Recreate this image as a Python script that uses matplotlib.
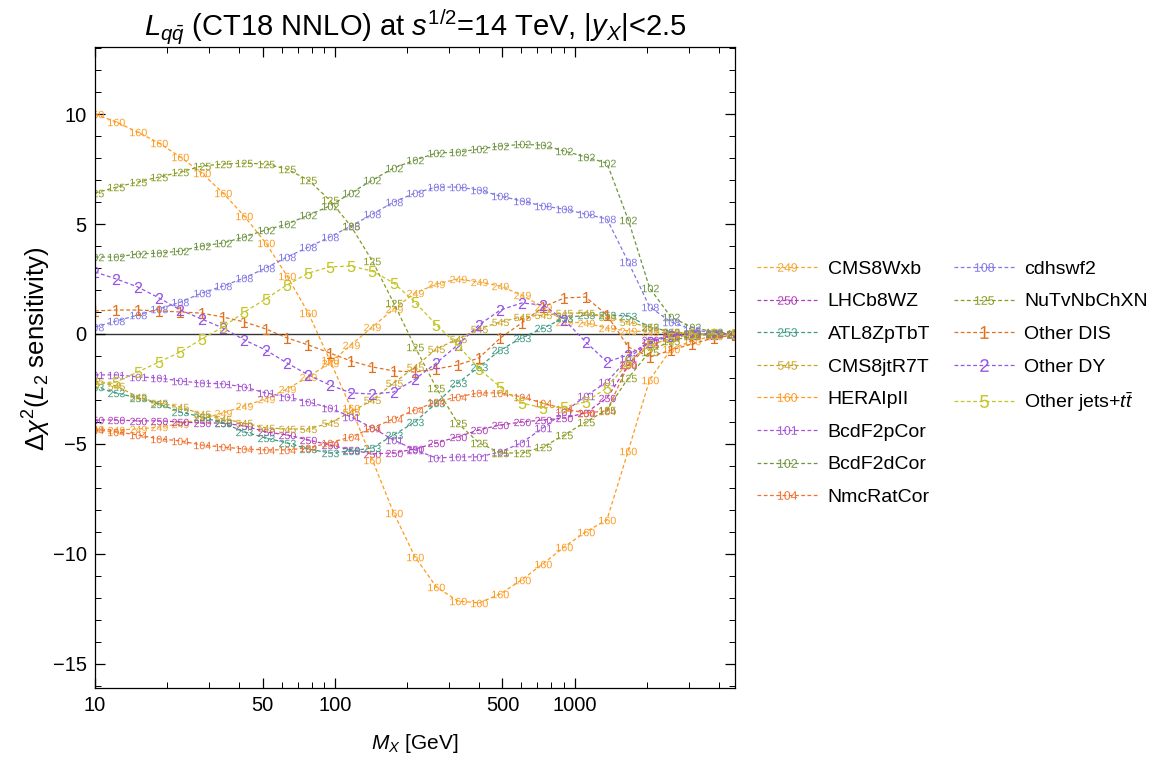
import numpy as np
import matplotlib
matplotlib.use("Agg")
import matplotlib.pyplot as plt
from matplotlib.lines import Line2D
from matplotlib.ticker import FixedLocator, FixedFormatter, NullFormatter

plt.rcParams['font.family'] = ['Liberation Sans', 'DejaVu Sans']
plt.rcParams['mathtext.fontset'] = 'custom'
plt.rcParams['mathtext.rm'] = 'Liberation Sans'
plt.rcParams['mathtext.it'] = 'Liberation Sans:italic'
plt.rcParams['mathtext.bf'] = 'Liberation Sans:bold'

# invariant mass grid (GeV)
mass = [10.0, 12.27, 15.06, 18.49, 22.69, 27.85, 34.18, 41.95, 51.49, 63.19,
        77.55, 95.18, 116.8, 143.4, 176.0, 216.0, 265.1, 325.3, 399.3, 490.0,
        601.4, 738.1, 905.9, 1112, 1364, 1675, 2055, 2522, 3096, 3799, 4667]

# delta chi^2 for each experiment
cms8wxb_249 = [-4.32, -4.36, -4.32, -4.23, -4.09, -3.86, -3.59, -3.27, -2.95, -2.5, -1.95,
               -1.32, -0.5, 0.32, 1.14, 1.86, 2.27, 2.5, 2.36, 2.18, 1.77, 1.23, 0.55,
               0.5, 0.27, 0.14, 0.1, 0.05, 0.0, 0.0, 0.0]
lhcb8wz_250 = [-3.91, -3.91, -3.95, -3.95, -4.0, -4.05, -4.05, -4.18, -4.45, -4.59, -4.82,
               -5.05, -5.27, -5.45, -5.41, -5.23, -4.95, -4.68, -4.36, -4.14, -4.0, -3.91,
               -3.82, -3.59, -2.91, -1.41, -0.27, -0.1, 0.0, 0.0, 0.0]
atl8zptbt_253 = [-2.41, -2.68, -2.91, -3.18, -3.55, -3.77, -4.05, -4.45, -4.73, -4.95, -5.23,
                 -5.41, -5.32, -5.18, -4.59, -4.0, -3.14, -2.23, -1.5, -0.73, -0.18, 0.27,
                 0.73, 0.86, 0.86, 0.82, 0.32, 0.1, 0.0, 0.0, 0.0]
cms8jtr7t_545 = [-2.14, -2.36, -2.86, -3.14, -3.32, -3.64, -3.86, -4.05, -4.27, -4.32, -4.32,
                 -4.05, -3.55, -3.0, -2.23, -1.5, -0.68, -0.23, 0.23, 0.55, 0.77, 0.86,
                 0.95, 0.95, 0.77, 0.55, 0.3, 0.1, 0.0, 0.0, 0.0]
heraipii_160 = [10.0, 9.64, 9.18, 8.68, 8.05, 7.32, 6.41, 5.36, 4.14, 2.64, 0.95, -1.18,
                -3.36, -5.73, -8.14, -10.14, -11.5, -12.14, -12.23, -11.82, -11.18, -10.45,
                -9.68, -9.0, -8.45, -5.3, -2.09, -0.7, -0.3, -0.1, 0.0]
bcdf2pcor_101 = [-1.86, -1.86, -1.95, -2.0, -2.14, -2.23, -2.27, -2.41, -2.68, -2.86, -3.09,
                 -3.36, -3.77, -4.27, -4.82, -5.27, -5.64, -5.59, -5.59, -5.36, -4.95, -4.27,
                 -3.55, -2.82, -2.18, -1.09, -0.36, -0.1, 0.0, 0.0, 0.0]
bcdf2dcor_102 = [3.5, 3.5, 3.64, 3.68, 3.77, 4.0, 4.14, 4.41, 4.73, 5.0, 5.4, 5.82, 6.41,
                 7.0, 7.55, 7.91, 8.23, 8.27, 8.41, 8.55, 8.62, 8.59, 8.32, 8.05, 7.77,
                 5.18, 2.09, 0.77, 0.3, 0.1, 0.0]
nmcratcor_104 = [-4.36, -4.45, -4.59, -4.77, -4.86, -5.05, -5.14, -5.23, -5.27, -5.27, -5.18,
                 -4.95, -4.68, -4.27, -3.86, -3.45, -3.09, -2.86, -2.68, -2.68, -2.86, -3.14,
                 -3.41, -3.59, -3.5, -1.4, -0.5, -0.2, 0.0, 0.0, 0.0]
cdhswf2_108 = [0.32, 0.59, 0.86, 1.14, 1.45, 1.86, 2.18, 2.55, 3.0, 3.5, 3.95, 4.41, 4.91,
               5.45, 6.0, 6.41, 6.68, 6.68, 6.55, 6.27, 6.05, 5.82, 5.68, 5.45, 5.23, 3.27,
               1.23, 0.55, 0.2, 0.05, 0.0]
nutvnbchxn_125 = [6.41, 6.68, 6.91, 7.14, 7.36, 7.64, 7.73, 7.77, 7.73, 7.5, 7.0, 6.09, 4.9,
                  3.32, 1.41, -0.59, -2.45, -4.05, -4.95, -5.41, -5.41, -5.14, -4.59, -4.0,
                  -3.45, -2.0, -0.8, -0.3, -0.1, 0.0, 0.0]
other_dis_1 = [1.05, 1.09, 1.09, 1.05, 1.0, 0.95, 0.77, 0.55, 0.23, -0.18, -0.5, -0.86,
               -1.23, -1.5, -1.68, -1.73, -1.59, -1.41, -1.09, -0.18, 0.5, 1.23, 1.64, 1.68,
               0.86, -0.59, -1.05, -0.73, -0.45, -0.18, -0.05]
other_dy_2 = [2.82, 2.5, 2.14, 1.64, 1.09, 0.68, 0.27, -0.27, -0.73, -1.32, -1.86, -2.32,
              -2.68, -2.73, -2.64, -2.05, -1.32, -0.5, 0.41, 1.09, 1.41, 1.32, 0.64, -0.36,
              -1.27, -0.95, -0.36, -0.1, 0.0, 0.0, 0.0]
other_jets_5 = [-2.23, -2.18, -1.73, -1.27, -0.82, -0.23, 0.32, 1.0, 1.59, 2.23, 2.77, 3.05,
                3.09, 2.86, 2.32, 1.45, 0.41, -0.5, -1.59, -2.41, -3.14, -3.36, -3.32, -3.09,
                -2.45, -1.27, -0.5, -0.2, 0.0, 0.0, 0.0]

# (experiment, marker label, values, colour)
series = [
    ('CMS8Wxb', '249', cms8wxb_249, '#f5a52e'),
    ('LHCb8WZ', '250', lhcb8wz_250, '#b03cb8'),
    ('ATL8ZpTbT', '253', atl8zptbt_253, '#3e9a82'),
    ('CMS8jtR7T', '545', cms8jtr7t_545, '#c8a224'),
    ('HERAIpII', '160', heraipii_160, '#ff9a1e'),
    ('BcdF2pCor', '101', bcdf2pcor_101, '#a454d6'),
    ('BcdF2dCor', '102', bcdf2dcor_102, '#6e9440'),
    ('NmcRatCor', '104', nmcratcor_104, '#f0702c'),
    ('cdhswf2', '108', cdhswf2_108, '#8078e6'),
    ('NuTvNbChXN', '125', nutvnbchxn_125, '#879c22'),
    ('Other DIS', '1', other_dis_1, '#e0701e'),
    ('Other DY', '2', other_dy_2, '#9454e4'),
    (r'Other jets+$t\bar{t}$', '5', other_jets_5, '#c4c424'),
]

fig = plt.figure(figsize=(11.55, 7.66), dpi=100)
ax = fig.add_axes([0.0823, 0.1018, 0.5541, 0.8368])

ax.axhline(0, color='#333333', lw=1.0, zorder=1)

handles = []
for name, code, vals, col in series:
    ms = 8 if len(code) == 1 else 12
    h, = ax.plot(mass, vals, ls=(0, (3, 2)), lw=0.9, color=col,
                 marker='$' + code + '$', markersize=ms, markeredgewidth=0,
                 label=name, zorder=2)
    handles.append(h)

ax.set_xscale('log')
ax.set_xlim(10, 4667)
ax.set_ylim(-16.1, 13.05)

ax.xaxis.set_major_locator(FixedLocator([10, 50, 100, 500, 1000]))
ax.xaxis.set_major_formatter(FixedFormatter(['10', '50', '100', '500', '1000']))
minor_x = [20, 30, 40, 60, 70, 80, 90, 200, 300, 400, 600, 700, 800, 900, 2000, 3000, 4000]
ax.xaxis.set_minor_locator(FixedLocator(minor_x))
ax.xaxis.set_minor_formatter(NullFormatter())
ax.yaxis.set_major_locator(FixedLocator([-15, -10, -5, 0, 5, 10]))
ax.yaxis.set_minor_locator(FixedLocator(np.arange(-16, 14, 1)))

ax.tick_params(which='both', direction='in', top=True, right=True, labelsize=14.5)
ax.tick_params(which='major', length=7, width=0.9, pad=6)
ax.tick_params(which='minor', length=4, width=0.7)
for sp in ax.spines.values():
    sp.set_linewidth(0.9)

ax.set_title(r'$L_{q\bar{q}}$ (CT18 NNLO) at $s^{1/2}$=14 TeV, $|y_X|$<2.5', fontsize=21, pad=6)
ax.set_xlabel(r'$M_X$ [GeV]', fontsize=15, labelpad=12)
ax.set_ylabel(r'$\Delta\chi^2$($L_2$ sensitivity)', fontsize=18.5)
ax.yaxis.set_label_coords(-0.066, 0.53)

# pad second legend column so it has 5 entries like the original
blank = Line2D([], [], color='none')
leg_handles = handles + [blank, blank, blank]
leg_labels = [s[0] for s in series] + ['', '', '']
fig.legend(leg_handles, leg_labels, loc='center left', bbox_to_anchor=(0.640, 0.496),
           ncol=2, frameon=False, fontsize=14, handlelength=3.15, handletextpad=0.5,
           labelspacing=0.77, columnspacing=1.2, markerscale=1.15, numpoints=1)

plt.savefig('out.png', dpi=100)
